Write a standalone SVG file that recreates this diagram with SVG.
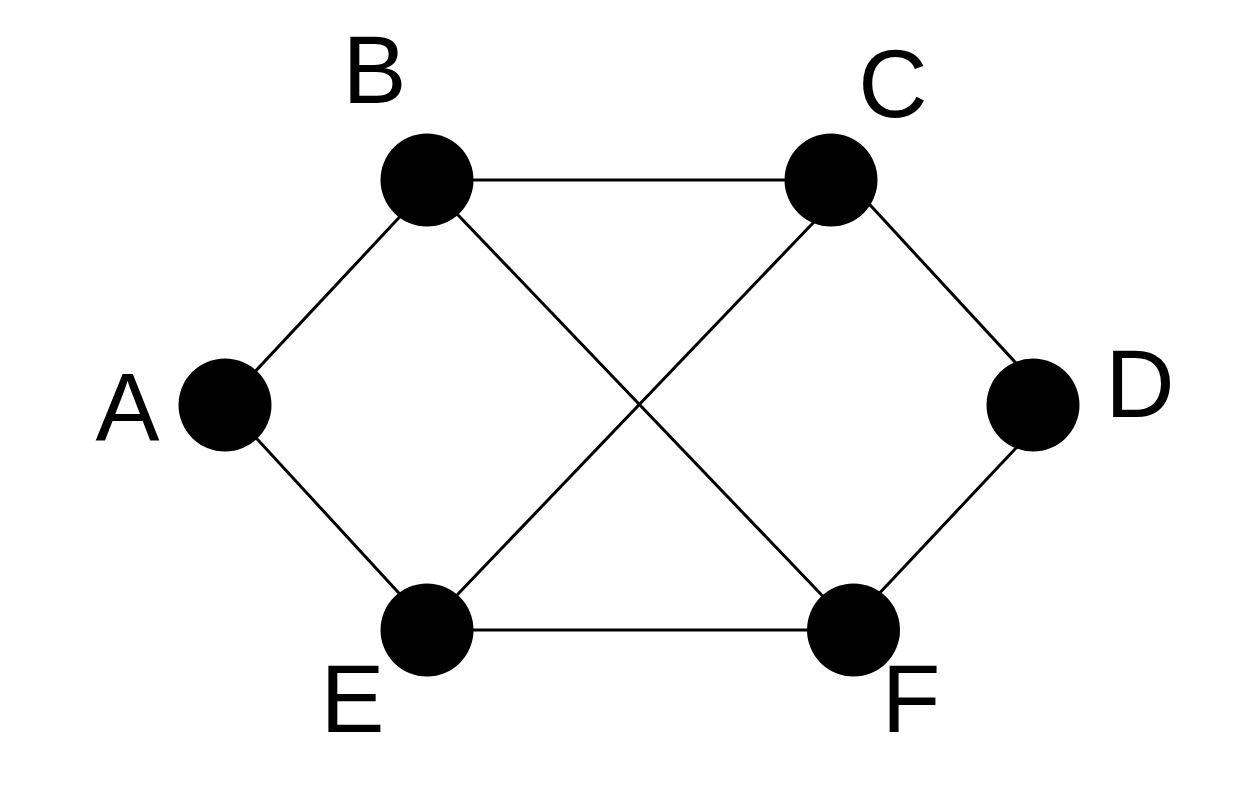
<svg xmlns="http://www.w3.org/2000/svg" width="1248" height="808" viewBox="0 0 1248 808">
<style>
.edge{stroke:#000;stroke-width:3;fill:none}
.node{fill:#000}
.lbl{font-family:"Liberation Sans",Arial,sans-serif;font-size:96px;fill:#000;text-anchor:middle}
</style>
<rect width="1248" height="808" fill="#fff"/>
<g id="edges">
<line class="edge" x1="251.2" y1="375.8" x2="403.8" y2="212.5"/>
<line class="edge" x1="252.6" y1="434.1" x2="403.4" y2="597.9"/>
<line class="edge" x1="427" y1="180" x2="831" y2="180"/>
<line class="edge" x1="452.5" y1="209.2" x2="827.2" y2="600.8"/>
<line class="edge" x1="818.5" y1="217.2" x2="452.5" y2="599.8"/>
<line class="edge" x1="864.6" y1="199.1" x2="1020.4" y2="367.9"/>
<line class="edge" x1="1020.5" y1="443.2" x2="874.5" y2="598.5"/>
<line class="edge" x1="427" y1="630" x2="853" y2="630"/>
</g>
<g id="A"><circle class="node" cx="225" cy="405" r="46.5"/><text class="lbl" x="127.5" y="440">A</text></g>
<g id="B"><circle class="node" cx="427" cy="180" r="46.5"/><text class="lbl" x="374.5" y="103">B</text></g>
<g id="C"><circle class="node" cx="831" cy="180" r="46.5"/><text class="lbl" x="893" y="117">C</text></g>
<g id="D"><circle class="node" cx="1033" cy="405" r="46.5"/><text class="lbl" x="1140" y="417">D</text></g>
<g id="E"><circle class="node" cx="427" cy="630" r="46.5"/><text class="lbl" x="352.5" y="732">E</text></g>
<g id="F"><circle class="node" cx="853.5" cy="630" r="46.5"/><text class="lbl" x="911" y="732">F</text></g>
</svg>
